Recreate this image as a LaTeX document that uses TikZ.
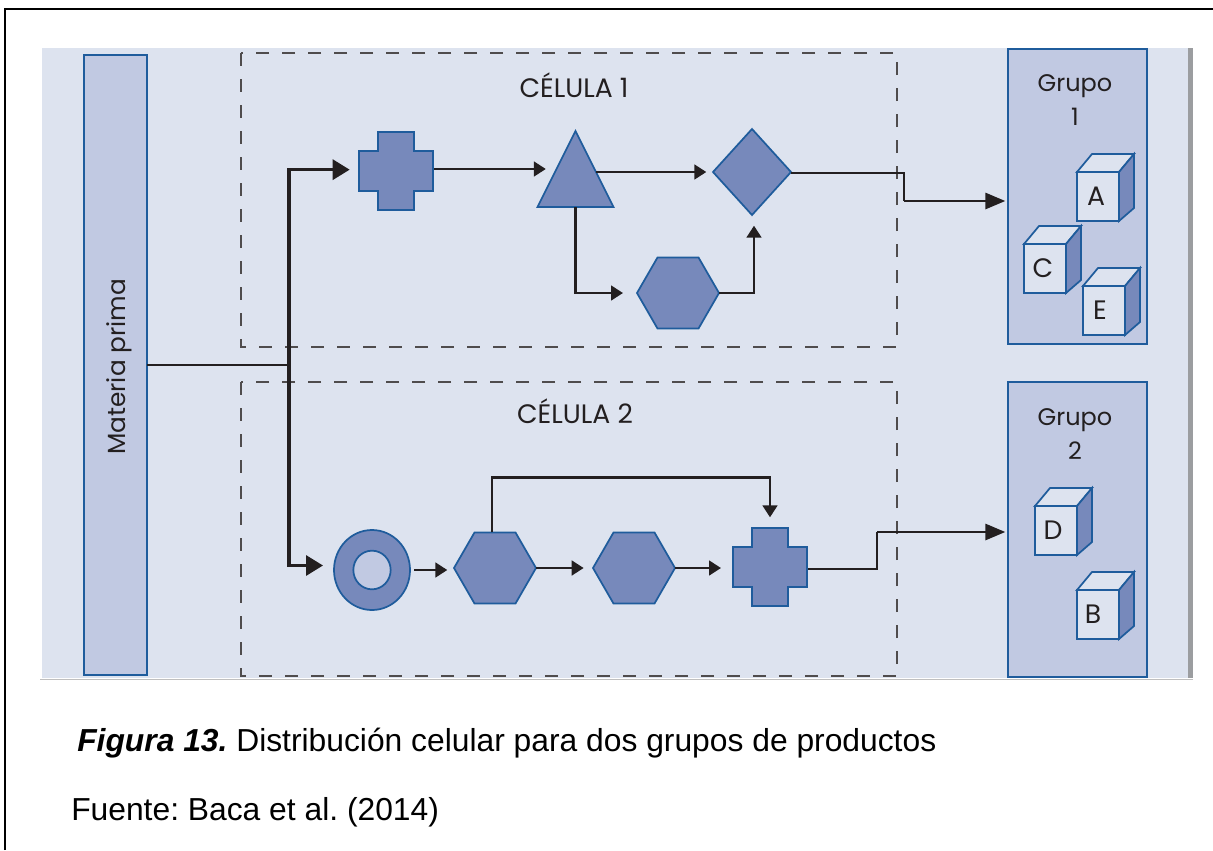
\documentclass[tikz,border=0pt]{standalone}
\usepackage{fontspec}
\setmainfont{Liberation Sans}
\newfontfamily\libro{Poppins}
\usetikzlibrary{arrows.meta, shapes.geometric}
\definecolor{fondo}{HTML}{DDE3EF}
\definecolor{caja}{HTML}{C1C9E2}
\definecolor{figura}{HTML}{7789BB}
\definecolor{borde}{HTML}{1F5C9C}
\definecolor{tinta}{HTML}{231F20}
\definecolor{barra}{HTML}{9B9DA0}

\tikzset{
  pieza/.style = {draw=borde, fill=figura, line width=1.3pt, inner sep=0pt, outer sep=0pt},
  hexagono/.style = {pieza, regular polygon, regular polygon sides=6, minimum size=61.5pt},
  rombo/.style = {pieza, diamond, minimum width=58.5pt, minimum height=64.5pt},
  triangulo/.style = {pieza, isosceles triangle, isosceles triangle stretches, shape border rotate=90,
    minimum width=57pt, minimum height=57pt},
  anillo/.style = {pieza, ellipse, minimum width=57pt, minimum height=60pt},
  hueco/.style = {pieza, fill=caja, ellipse, minimum width=28pt, minimum height=29pt},
  cruz/.style = {inner sep=0pt, outer sep=0pt, minimum width=57.5pt, minimum height=60.5pt, path picture={
    \filldraw[draw=borde, fill=figura, line width=1.3pt, shift={(path picture bounding box.center)}]
      (-18,-39) -- (18,-39) -- (18,-20) -- (37,-20) -- (37,20) -- (18,20) -- (18,39)
      -- (-18,39) -- (-18,20) -- (-37,20) -- (-37,-20) -- (-18,-20) -- cycle;}},
  bloque/.style = {draw=borde, fill=caja, line width=1.3pt, inner sep=0pt, outer sep=0pt},
  celula/.style = {draw=tinta!80, dash pattern=on 9.75pt off 9.75pt, line width=1.2pt},
  rotulo/.style = {text=tinta, font=\libro\fontsize{18}{25.5}\selectfont, inner sep=0pt},
  linea/.style = {draw=tinta, line width=2pt},
  flecha/.style = {linea, -{Triangle[length=9pt, width=11pt]}},
  flechota/.style = {draw=tinta, line width=2.4pt, -{Triangle[length=12.75pt, width=15pt]}},
  flechon/.style = {draw=tinta, line width=2.2pt, shorten >=2pt, -{Triangle[length=15pt, width=12pt]}},
  pie/.style = {anchor=base west, inner sep=0pt, font=\frenchspacing\fontsize{23.85}{28}\selectfont, text=black}
}

\begin{document}
\begin{tikzpicture}[x=0.75pt, y=-0.75pt]
    \useasboundingbox (0,0) rectangle (1213,850);
    \draw[black, line width=1.6pt] (5,850) -- (5,9) -- (1213,9);

    % fondo
    \fill[fondo] (42,48) rectangle (1189,678);
    \fill[barra] (1188,48) rectangle (1193,678);
    \draw[black!25, line width=0.8pt] (40,679.5) -- (1193,679.5);

    % celulas
    \draw[celula] (241,53) rectangle (897,347);
    \draw[celula] (241,382) rectangle (897,676);
    \node[rotulo, font=\libro\fontsize{20}{24}\selectfont] (celula1) at (574,85) {CÉLULA 1};
    \node[rotulo, font=\libro\fontsize{20}{24}\selectfont] (celula2) at (575,411) {CÉLULA 2};

    % materia prima y grupos
    \node[bloque, minimum width=47.25pt, minimum height=465pt] (materia) at (115.5,365) {};
    \node[rotulo, rotate=90, font=\libro\fontsize{18.6}{23}\selectfont] (materiatxt) at (119,367) {Materia prima};
    \node[bloque, minimum width=104.25pt, minimum height=221.25pt] (grupo1) at (1077.5,196.5) {};
    \node[bloque, minimum width=104.25pt, minimum height=221.25pt] (grupo2) at (1077.5,529.5) {};
    \node[rotulo, align=center] (grupo1txt) at (1075,100) {Grupo\\1};
    \node[rotulo, align=center] (grupo2txt) at (1075,434) {Grupo\\2};

    % cubos
    \foreach \x/\y/\d/\t in {1077/172/-2/A, 1024/244/-2/C, 1083/286/-4/E, 1035/506/-3/D, 1077/590/-5/B} {
      \draw[bloque, fill=fondo] (\x,\y) -- (\x+15,\y-18) -- (\x+57,\y-18) -- (\x+42,\y) -- cycle;
      \draw[bloque, fill=figura] (\x+42,\y) -- (\x+57,\y-18) -- (\x+57,\y+36) -- (\x+42,\y+49) -- cycle;
      \node[bloque, fill=fondo, minimum width=31.5pt, minimum height=36.75pt, anchor=north west] (cubo\t) at (\x,\y) {};
      \node[rotulo, font=\libro\fontsize{20}{24}\selectfont, xshift=\d*0.75pt] (letra\t) at (cubo\t) {\t};
    }

    % celula 1
    \node[cruz] (cruz1) at (396,171) {};
    \node[triangulo, anchor=apex] (tri) at (575.5,131) {};
    \node[rombo] (rom) at (752,172) {};
    \node[hexagono] (hexa1) at (678,293) {};
    \coordinate (cruce) at (289,365);
    \coordinate (tridcha) at (596,172);
    \coordinate (baja) at (904,201);
    \coordinate (entrada) at (323,565.5);
    \coordinate (sube) at (877,532);

    % celula 2
    \node[anillo] (ani) at (372,570) {};
    \node[hueco] (hue) at (372,570) {};
    \node[hexagono] (hexa2) at (495,568) {};
    \node[hexagono] (hexa3) at (634,568) {};
    \node[cruz] (cruz2) at (770,567) {};

    % flechas
    \draw[linea] (materia.east) -- (cruce);
    \draw[flechota, shorten >=6pt] (cruce) |- ([yshift=1pt]cruz1.west);
    \draw[flechota] (cruce) |- (entrada);
    \draw[flecha, shorten >=8pt] ([yshift=1.5pt]cruz1.east) -- ([yshift=1.5pt]cruz1.east -| tri.left side);
    \draw[flecha, shorten >=5pt] (tridcha) -- (tridcha -| rom.west);
    \draw[flecha, shorten >=10.5pt] (tri.lower side) |- (hexa1.west);
    \draw[flecha, shorten >=8pt] (hexa1.east) -| ([xshift=1.5pt]rom.south);
    \draw[linea] ([yshift=-0.75pt]rom.east) -| (baja);
    \draw[flechon] (baja) -- (baja -| grupo1.west);
    \draw[flecha, shorten <=3pt, shorten >=5pt] (ani.east) -- (ani.east -| hexa2.west);
    \draw[flecha, shorten >=7pt] (hexa2.east) -- (hexa3.west);
    \draw[flecha, shorten >=8pt] (hexa3.east) -- (hexa3.east -| cruz2.west);
    \draw[flecha, shorten >=7pt] ([xshift=-2.25pt]hexa2.north) -- ++(0,-55) -| (cruz2.north);
    \draw[linea] ([yshift=-1.5pt]cruz2.east) -| (sube);
    \draw[flechon] (sube) -- (sube -| grupo2.west);

    % pie
    \node[pie] (pie1) at (77,751) {\textbf{\textit{Figura 13.}} Distribución celular para dos grupos de productos};
    \node[pie] (pie2) at (71,820.5) {Fuente: Baca et al. (2014)};
\end{tikzpicture}
\end{document}
